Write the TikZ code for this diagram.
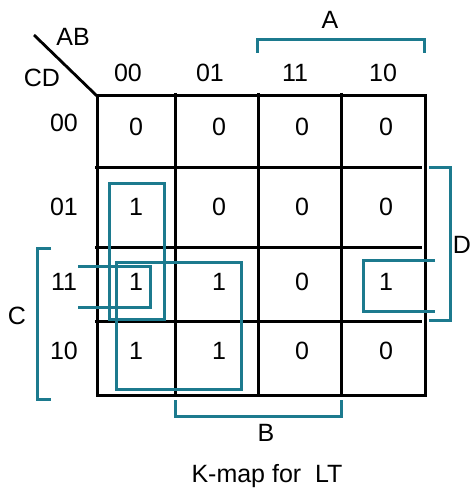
\documentclass[tikz,border=0pt]{standalone}
\usepackage{fontspec}
\setmainfont{Liberation Sans}
\usepackage{tikz}
\usetikzlibrary{
  arrows.meta,
  positioning,
  calc
}
\definecolor{LoopTeal}{RGB}{28,122,142}
\tikzset{
  gridline/.style={draw=black,line width=3pt},
  looprect/.style={draw=LoopTeal,line width=3pt},
  bracketline/.style={draw=LoopTeal,line width=3pt},
  kmaptext/.style={inner sep=0pt,text height=17.9pt,text depth=0pt,font=\fontsize{25}{29}\selectfont}
}

\begin{document}
\begin{tikzpicture}[x=1pt,y=-1pt]
\useasboundingbox (0,0) rectangle (471,489);

% grid
\coordinate (tl) at (97,96);
\coordinate (br) at (425,395);
\draw[gridline] (tl) rectangle (br);
\foreach \xv in {175,258,341}{
  \draw[gridline] (\xv,93) -- (\xv,395);
}
\foreach \yv in {167,247,321}{
  \draw[gridline] (95,\yv) -- (422,\yv);
}
\draw[line width=2.8pt] (34,35) -- (tl);

% corner labels
\node[kmaptext] (ab) at (73,37) {AB};
\node[kmaptext] (cd) at (42,78) {CD};

% column and row headers
\foreach \lbl/\xv in {00/128,01/210,11/295,10/383}{
  \node[kmaptext] (col\lbl) at (\xv,73) {\lbl};
}
\foreach \lbl/\yv in {00/123,01/207,11/282,10/351}{
  \node[kmaptext] (row\lbl) at (64,\yv) {\lbl};
}

% cell values
\foreach \r/\yv/\va/\vb/\vc/\vd in {1/127/0/0/0/0,2/207/1/0/0/0,3/282/1/1/0/1,4/351/1/1/0/0}{
  \node[kmaptext] (c\r a) at (136,\yv) {\va};
  \node[kmaptext] (c\r b) at (219,\yv) {\vb};
  \node[kmaptext] (c\r c) at (302,\yv) {\vc};
  \node[kmaptext] (c\r d) at (386,\yv) {\vd};
}

% groups
\draw[looprect] (109,183) rectangle (164,319);
\draw[looprect] (116,262) rectangle (241,389);
\draw[looprect] (78,266) -- (150,266) -- (150,307) -- (78,307);
\draw[looprect] (435,260) -- (363,260) -- (363,311) -- (435,311);

% brackets
\draw[bracketline] (257,53) -- (257,40) -- (424,40) -- (424,53);
\node[kmaptext] (lblA) at (330,20) {A};
\draw[bracketline] (429,167) -- (450,167) -- (450,320) -- (429,320);
\node[kmaptext] (lblD) at (462,245) {D};
\draw[bracketline] (51,248) -- (37,248) -- (37,399) -- (51,399);
\node[kmaptext] (lblC) at (17,316) {C};
\draw[bracketline] (175,400) -- (175,416) -- (341,416) -- (341,400);
\node[kmaptext] (lblB) at (266,433) {B};

\node[kmaptext] (caption) at (267,474) {K-map for\ \ LT};
\end{tikzpicture}
\end{document}
